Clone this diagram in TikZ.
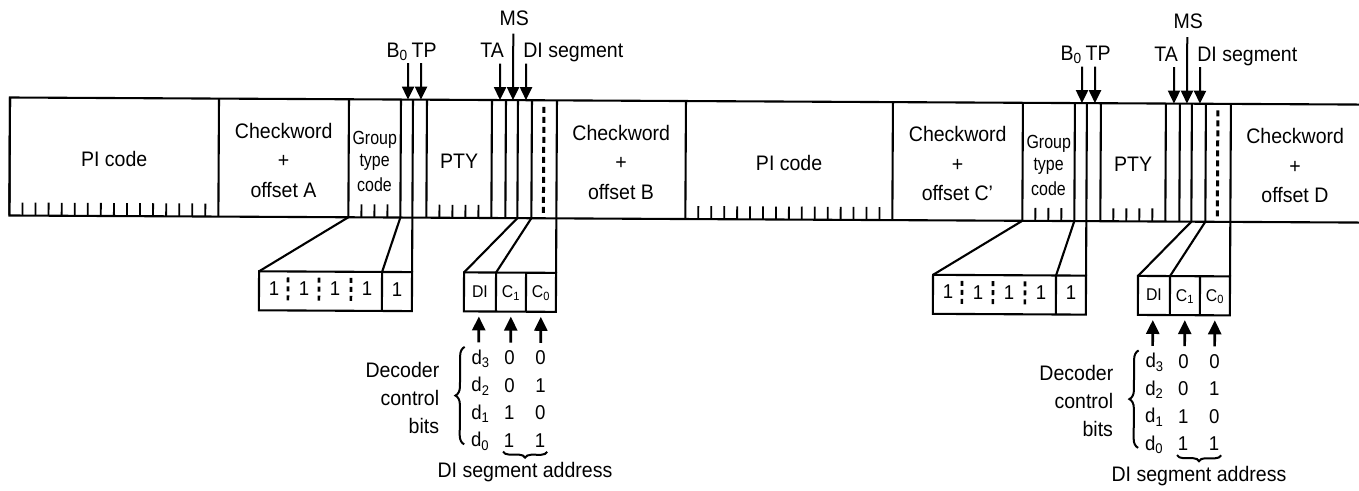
\documentclass[tikz,border=0pt]{standalone}
\usepackage{fontspec}
\setmainfont{Liberation Sans}[FakeStretch=0.93]
\newfontfamily\condfont{Liberation Sans}[FakeStretch=0.84]
\usetikzlibrary{arrows.meta,decorations.pathreplacing}
\newcommand\mysub[1]{\textsubscript{#1}}
\tikzset{
  ln/.style={line width=2.1pt},
  tk/.style={line width=1.8pt},
  dotl/.style={line width=3pt,dash pattern=on 6pt off 4pt},
  dots/.style={line width=2.6pt,dash pattern=on 5pt off 4pt},
  big/.style={font=\fontsize{21}{24}\selectfont,inner sep=0pt,anchor=base},
  grp/.style={font=\condfont\fontsize{19}{22}\selectfont,inner sep=0pt,anchor=base},
  cell/.style={font=\fontsize{17}{19}\selectfont,inner sep=0pt,anchor=base},
  tab/.style={font=\fontsize{20}{22}\selectfont,inner sep=0pt,anchor=base},
  dn/.style={line width=2pt,-{Triangle[width=12pt,length=13pt]}},
  upa/.style={line width=2.6pt,-{Triangle[width=13pt,length=14pt]}},
  brc/.style={line width=2pt,decorate,decoration={brace,amplitude=#1}},
  brc/.default=8,
}
\begin{document}
\begin{tikzpicture}[x=1pt,y=-1pt]
\useasboundingbox (0,0) rectangle (1359,490);
\begin{scope}[rotate around={-0.3:(10,97.5)}]
  % strip outline
  \coordinate (tr) at (1375,97.5);
  \coordinate (tl) at (10,97.5);
  \coordinate (bl) at (10,215.5);
  \coordinate (br) at (1375,215.5);
  \draw[ln] (tr) -- (tl) -- (bl) -- (br);
  \foreach \dx/\ps/\ca/\cb in {0/10/A/B,674/12/C'/D} {
  \begin{scope}[xshift=\dx pt]
    % cell dividers
    \foreach \xx in {\ps,219,349,401,413,427,492,506,518,532,557}
      \draw[ln] (\xx,97.5) -- (\xx,215.5);
    \draw[dotl] (544,104) -- (544,213);
    % ticks
    \foreach \k in {1,...,15}
      \draw[tk] ({\ps+\k*(219-\ps)/16},215.5) -- ++(0,-13);
    \foreach \k in {1,2,3}
      \draw[tk] ({349+\k*13},215.5) -- ++(0,-13);
    \foreach \k in {1,2,3,4}
      \draw[tk] ({427+\k*13},215.5) -- ++(0,-13);
    % cell texts
    \node[big] (pi\dx) at ({(\ps+219)/2},166) {PI code};
    \node[big] (cwa\dx) at (284,137) {Checkword};
    \node[big] (pla\dx) at (284,166.5) {+};
    \node[big] (ofa\dx) at (284,196) {offset \ca};
    \node[grp] (gr1\dx) at (375,143) {Group};
    \node[grp] (gr2\dx) at (375,165) {type};
    \node[grp] (gr3\dx) at (375,190) {code};
    \node[big] (pty\dx) at (459.5,166) {PTY};
    \node[big] (cwb\dx) at (621.5,137) {Checkword};
    \node[big] (plb\dx) at (621.5,166.5) {+};
    \node[big] (ofb\dx) at (621.5,196) {offset \cb};
    % top labels and arrows
    \node[big] (lb0\dx) at (397,55) {B\mysub{0}};
    \node[big] (ltp\dx) at (424,55) {TP};
    \node[big] (lta\dx) at (492,55) {TA};
    \node[big] (lms\dx) at (514,22.5) {MS};
    \node[big,anchor=base west] (ldi\dx) at (523,55) {DI segment};
    \coordinate (ab0s\dx) at (408,61);  \coordinate (ab0e\dx) at (408,97.5);
    \coordinate (atps\dx) at (421,61);  \coordinate (atpe\dx) at (421,97.5);
    \coordinate (atas\dx) at (500,61);  \coordinate (atae\dx) at (500,97.5);
    \coordinate (amss\dx) at (513,31);  \coordinate (amse\dx) at (513,97.5);
    \coordinate (adis\dx) at (526,61);  \coordinate (adie\dx) at (526,97.5);
    \draw[dn] (ab0s\dx) -- (ab0e\dx);
    \draw[dn] (atps\dx) -- (atpe\dx);
    \draw[dn] (atas\dx) -- (atae\dx);
    \draw[dn] (amss\dx) -- (amse\dx);
    \draw[dn] (adis\dx) -- (adie\dx);
    % expanded group type box
    \draw[ln] (349,215.5) -- (260,270);
    \draw[ln] (401,215.5) -- (383,270);
    \draw[ln] (413,215.5) -- (413,270);
    \draw[ln] (260,270) rectangle (413,309);
    \draw[ln] (383,270) -- (383,309);
    \foreach \xx in {289,320,352} \draw[dots] (\xx,276) -- (\xx,301);
    \foreach \xx [count=\j] in {275,305,336,368,398}
      \node[tab] (g\j-\dx) at (\xx,294) {1};
    % expanded DI box
    \draw[ln] (518,215.5) -- (465,270);
    \draw[ln] (532,215.5) -- (497,270);
    \draw[ln] (557,215.5) -- (557,270);
    \draw[ln] (465,270) rectangle (557,309);
    \draw[ln] (497,270) -- (497,309);
    \draw[ln] (527,270) -- (527,309);
    \node[cell] (bdi\dx) at (481,295) {DI};
    \node[cell] (bc1\dx) at (512,295) {C\mysub{1}};
    \node[cell] (bc0\dx) at (542,295) {C\mysub{0}};
    \foreach \xx in {480,512,542}
      \draw[upa] (\xx,340) -- (\xx,314);
    % decoder table
    \foreach \r/\a/\b [count=\i from 0] in {3/0/0,2/0/1,1/1/0,0/1/1} {
      \node[tab] (d\r-\dx) at (482,362+27.5*\i) {d\mysub{\r}};
      \node[tab] (a\r-\dx) at (511,362+27.5*\i) {\a};
      \node[tab] (b\r-\dx) at (542,362+27.5*\i) {\b};
    }
    \node[big,anchor=base east] (dec\dx) at (441,375) {Decoder};
    \node[big,anchor=base east] (ctl\dx) at (441,403) {control};
    \node[big,anchor=base east] (bit\dx) at (441,431) {bits};
    \draw[brc=9] (466,442) -- (466,344.5);
    \draw[brc=6] (549,449) -- (505,449);
    \node[big] (dsa\dx) at (527,475) {DI segment address};
  \end{scope}
  }
\end{scope}
\end{tikzpicture}
\end{document}
